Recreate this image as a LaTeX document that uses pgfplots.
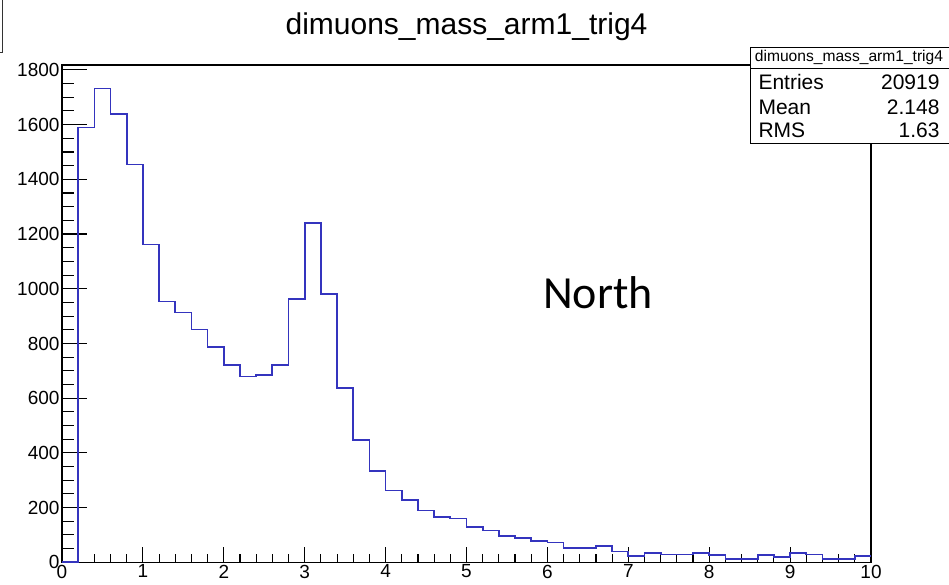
\documentclass[border=0pt]{standalone}
\usepackage{fontspec}
\setmainfont{Liberation Sans}
\newfontfamily\calibri{Carlito}
\usepackage{pgfplots}
\pgfplotsset{compat=1.18}
\definecolor{histblue}{RGB}{52,52,190}

\begin{document}
\begin{tikzpicture}[x=1pt,y=1pt]
\path[use as bounding box] (0,0) rectangle (949,585);

\begin{axis}[
    at={(62pt,22.7pt)}, anchor=south west,
    scale only axis,
    width=809pt, height=497.3pt,
    xmin=0, xmax=10, ymin=0, ymax=1818,
    xtick={0,1,...,10}, minor x tick num=4,
    ytick={0,200,...,1800}, minor y tick num=3,
    xtick pos=bottom, ytick pos=left,
    tick align=inside,
    axis line style={black, line width=1.3pt},
    tick style={black, line width=1.1pt},
    x tick style={/pgfplots/major tick length=15pt, /pgfplots/minor tick length=8pt},
    y tick style={/pgfplots/major tick length=25pt, /pgfplots/minor tick length=12pt},
    /pgf/number format/assume math mode=true,
    /pgf/number format/1000 sep={},
    tick label style={font=\fontsize{19}{19}\selectfont},
    xticklabel style={yshift=1pt},
    yticklabel style={xshift=1pt},
]
% histogram counts, bin width 0.2, value at each bin's left edge
\addplot[const plot mark left, histblue, line width=1.7pt] coordinates {
(0,0) (0.2,1590) (0.4,1732) (0.6,1638) (0.8,1454)
(1.0,1162) (1.2,953) (1.4,913) (1.6,851) (1.8,788)
(2.0,720) (2.2,679) (2.4,685) (2.6,720) (2.8,963)
(3.0,1240) (3.2,982) (3.4,637) (3.6,448) (3.8,335)
(4.0,262) (4.2,228) (4.4,189) (4.6,166) (4.8,160)
(5.0,130) (5.2,116) (5.4,97) (5.6,88) (5.8,78)
(6.0,72) (6.2,53) (6.4,53) (6.6,59) (6.8,39)
(7.0,24) (7.2,33) (7.4,28) (7.6,28) (7.8,34)
(8.0,26) (8.2,13) (8.4,13) (8.6,26) (8.8,19)
(9.0,33) (9.2,28) (9.4,13) (9.6,13) (9.8,24)
(10.0,24)
};
\end{axis}

% title
\node[anchor=base, font=\fontsize{30}{30}\selectfont] at (466.5,550) {dimuons\_mass\_arm1\_trig4};

% stats box
\draw[black, line width=1pt, fill=white] (750.3,441.7) rectangle (952,537.7);
\draw[black, line width=1pt] (750.3,516.7) -- (952,516.7);
\node[font=\fontsize{15.6}{15.6}\selectfont] at (849,527.2) {dimuons\_mass\_arm1\_trig4};
\begin{scope}[every node/.style={font=\fontsize{21}{21}\selectfont}]
\node[anchor=base west] at (755,495.7) {Entries};
\node[anchor=base east] at (943,495.7) {20919};
\node[anchor=base west] at (755,470.5) {Mean};
\node[anchor=base east] at (943,470.5) {2.148};
\node[anchor=base west] at (755,447.3) {RMS};
\node[anchor=base east] at (943,447.3) {1.63};
\end{scope}

% North label
\node[anchor=base west, inner sep=0pt, font=\calibri\fontsize{46}{46}\selectfont] at (543,276) {North};

% cropped frame corner at top left
\draw[black!80, line width=1pt] (2.7,585) -- (2.7,532) -- (0,532);
\end{tikzpicture}
\end{document}
